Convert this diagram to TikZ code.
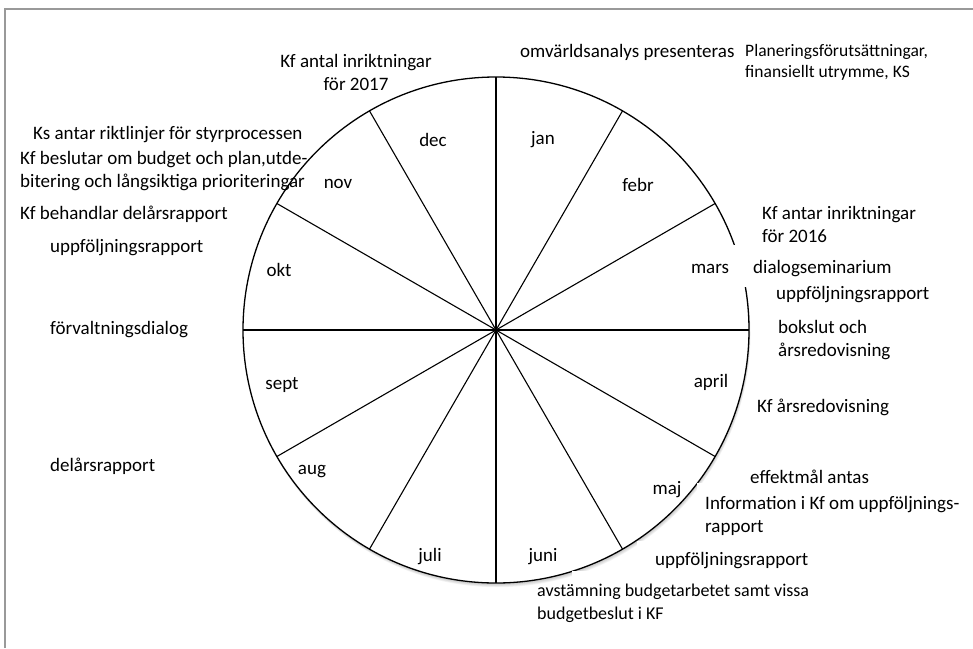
\documentclass[tikz,border=0pt]{standalone}
\usepackage{fontspec}
\setmainfont{Carlito}
\begin{document}
\begin{tikzpicture}[x=1pt,y=-1pt,
  every node/.style={font=\fontsize{19}{23}\selectfont, inner sep=0pt},
  lbl/.style={anchor=west, align=left},
  small/.style={font=\fontsize{17.5}{21}\selectfont},
  month/.style={anchor=center},
  spoke/.style={line width=1.1pt, black},
  wheel/.style={line width=1.3pt, black},
  frameline/.style={line width=1.4pt, black!40},
  mask/.style={fill=white, draw=none}]
\useasboundingbox (0,0) rectangle (973,648);
% frame (top and left only)
\draw[frameline] (5,648) -- (5,9) -- (973,9);
% centre of the wheel
\coordinate (c) at (496,330);
% shadow
\foreach \i in {1,...,6}
  \fill[black, opacity=0.045] ([xshift=0.25*\i pt, yshift=-0.7*\i pt]c) circle (253pt);
\fill[white] (c) circle (253pt);
\draw[wheel] (c) circle (253pt);
% spokes
\foreach \a in {0,30,...,330}
  \draw[spoke] (c) -- ([shift={(\a:253pt)}]c);
% white text boxes that hide parts of the wheel
\fill[mask] (733,245) rectangle (900,287);
\fill[mask] (637,541) rectangle (815,580);
\fill[mask] (572,571) rectangle (820,625);
\fill[mask] (697,483) rectangle (965,540);
% months
\node[month] (jan)  at (543,140) {jan};
\node[month] (dec)  at (433,140) {dec};
\node[month] (feb)  at (638,185) {febr};
\node[month] (nov)  at (338,184) {nov};
\node[month] (mar)  at (710,269) {mars};
\node[month] (okt)  at (279,270) {okt};
\node[month] (apr)  at (711,382) {april};
\node[month] (sep)  at (282,385) {sept};
\node[month] (maj)  at (667,490) {maj};
\node[month] (aug)  at (312,472) {aug};
\node[month] (jun)  at (543,557) {juni};
\node[month] (jul)  at (430,557) {juli};
% events
\node[align=center] (t1) at (356,72) {Kf antal inriktningar\\för 2017};
\node[lbl] (t2) at (520,52) {omvärldsanalys presenteras};
\node[lbl, small] (t3) at (745,62.5) {Planeringsförutsättningar,\\finansiellt utrymme, KS};
\node[lbl] (t4) at (33,135) {Ks antar riktlinjer för styrprocessen};
\node[lbl] (t5) at (20,171.5) {Kf beslutar om budget och plan,utde-\\bitering och långsiktiga prioriteringar};
\node[lbl] (t6) at (20,214) {Kf behandlar delårsrapport};
\node[lbl] (t7) at (50,248) {uppföljningsrapport};
\node[lbl] (t8) at (50,330) {förvaltningsdialog};
\node[lbl] (t9) at (50,466) {delårsrapport};
\node[lbl] (t10) at (762,224) {Kf antar inriktningar\\för 2016};
\node[lbl] (t11) at (753,269) {dialogseminarium};
\node[lbl] (t12) at (776,295) {uppföljningsrapport};
\node[lbl] (t13) at (778,340) {bokslut och\\årsredovisning};
\node[lbl] (t14) at (757,407) {Kf årsredovisning};
\node[lbl] (t15) at (750,477) {effektmål antas};
\node[lbl] (t16) at (705,516) {Information i Kf om uppföljnings-\\rapport};
\node[lbl] (t17) at (655,561) {uppföljningsrapport};
\node[lbl, font=\fontsize{18}{23}\selectfont] (t18) at (537,603) {avstämning budgetarbetet samt vissa\\budgetbeslut i KF};
\end{tikzpicture}
\end{document}
